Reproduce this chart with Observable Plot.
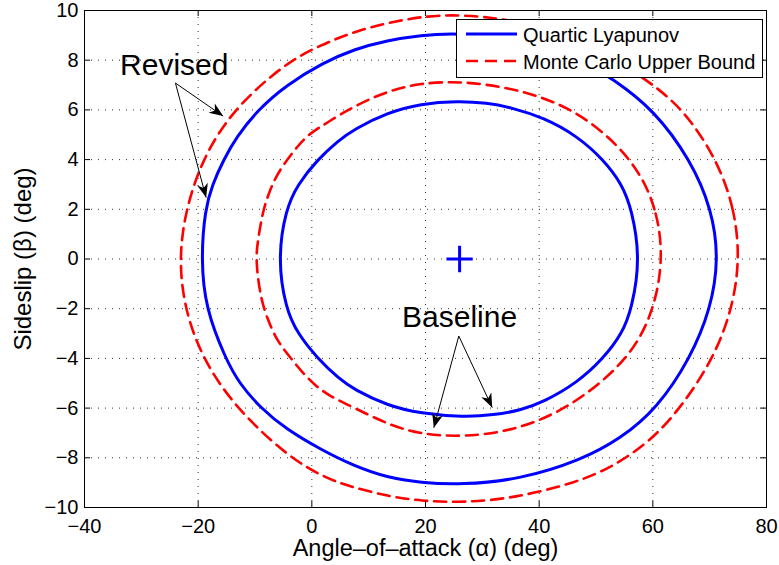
<!DOCTYPE html>
<html><head><meta charset="utf-8">
<script src="https://cdn.jsdelivr.net/npm/d3@7"></script>
<script src="https://cdn.jsdelivr.net/npm/@observablehq/plot@0.6"></script>
<style>html,body{margin:0;padding:0;background:#fff}svg{display:block}</style>
</head><body><div id="chart"></div>
<script>
// ---- tick values ----
const xTicks = [-40, -20, 0, 20, 40, 60, 80];
const yTicks = [-10, -8, -6, -4, -2, 0, 2, 4, 6, 8, 10];
const xGrid = [-20, 0, 20, 40, 60];
const yGrid = [-8, -6, -4, -2, 0, 2, 4, 6, 8];

// ---- series names (legend) ----
const seriesNames = ["Quartic Lyapunov", "Monte Carlo Upper Bound"];

// ---- curves: [alpha (deg), beta (deg)] ----
const revisedQuartic = [
  [71.6, 0], [70.4, 2], [66.6, 4], [60.2, 6], [53.1, 7.23], [47.2, 8.05], [36.7, 8.85],
  [25.5, 9.11], [19.1, 9.0], [13.3, 8.8], [7.4, 8.44], [2.0, 7.9], [-4.5, 7.0], [-9.5, 6],
  [-13.3, 4.9], [-15.5, 4], [-17.5, 3.0], [-18.8, 2], [-19.5, 0], [-18.7, -2], [-15.2, -4],
  [-12.8, -5], [-9.0, -6], [-4.5, -6.85], [1.5, -7.66], [7.4, -8.33], [13.3, -8.8],
  [19.1, -9.0], [26.2, -9.09], [36.7, -8.87], [47.3, -8.1], [54.3, -7.24], [60.8, -6],
  [66.6, -4], [70.2, -2]
];
const revisedMonteCarlo = [
  [75.3, 0], [74.4, 2], [71.3, 4], [65.5, 6], [59.0, 7.23], [46.7, 9.0], [35.5, 9.63],
  [25.6, 9.85], [19.1, 9.75], [13.3, 9.5], [7.4, 9.15], [1.5, 8.6], [-4.6, 7.9],
  [-14.0, 6], [-19.3, 4], [-22.2, 2], [-23.4, 0], [-22.4, -2], [-19.3, -4], [-13.4, -6],
  [-4.0, -8], [2.7, -8.85], [7.4, -9.2], [13.3, -9.54], [19.1, -9.74], [26.7, -9.8],
  [35.5, -9.63], [46.7, -8.99], [53.0, -8.35], [59.5, -7.35], [64.9, -6], [70.7, -4], [74.0, -2]
];
const baselineQuartic = [
  [57.8, 0], [56.3, 2], [54.6, 3.0], [51.3, 4.0], [46.7, 4.95], [40.8, 5.69], [35.0, 6.1],
  [30.8, 6.28], [25.8, 6.36], [19.1, 6.25], [13.3, 5.89], [7.4, 5.22], [4.6, 4.75],
  [1.0, 4], [-2.5, 3.0], [-4.6, 2], [-6.0, 0], [-4.6, -2], [-2.5, -3.0], [1.0, -4],
  [4.8, -4.82], [7.4, -5.25], [13.3, -5.9], [19.1, -6.22], [26.7, -6.36], [32.0, -6.28],
  [36.7, -6.09], [40.8, -5.75], [46.7, -4.98], [51.3, -4], [54.6, -3.0], [56.3, -2]
];
const baselineMonteCarlo = [
  [61.8, 0], [60.8, 2], [56.7, 4], [47.0, 6.0], [36.0, 6.87], [26.2, 7.16], [19.1, 7.08],
  [13.3, 6.76], [7.4, 6.15], [2.7, 5.49], [-0.5, 5.03], [-2.3, 4.6], [-5.2, 3.74],
  [-6.7, 3.14], [-7.85, 2.47], [-8.73, 1.8], [-9.5, 0.72], [-9.9, 0], [-9.03, -1.61],
  [-7.57, -2.55], [-6.1, -3.29], [-4.05, -3.89], [-1.7, -4.56], [0.65, -5.1], [3.0, -5.5],
  [7.4, -5.98], [13.3, -6.65], [19.1, -7.06], [26.7, -7.16], [35.5, -6.92], [45.5, -6.0],
  [56.1, -4], [60.3, -2]
];

// ---- trim point marker ----
const trimPoint = [[26, 0]];

// ---- annotations ----
const annotLabels = ["Revised", "Baseline"];
const annotAlpha = [-24.2, 26.0];
const annotBeta = [7.78, -2.33];
// arrows: start -> tip
const arrowStartAlpha = [-24.0, -24.0, 25.86, 25.86];
const arrowStartBeta = [7.08, 7.08, -3.10, -3.10];
const arrowTipAlpha = [-15.6, -18.6, 21.46, 31.74];
const arrowTipBeta = [5.75, 2.47, -6.79, -5.98];

// ---- build tables ----
function toRows(pts, curve) { return pts.map(([a, b]) => ({curve, alpha: a, beta: b})); }
const quarticRows = [...toRows(revisedQuartic, "revised"), ...toRows(baselineQuartic, "baseline")];
const mcRows = [...toRows(revisedMonteCarlo, "revised"), ...toRows(baselineMonteCarlo, "baseline")];
const annots = annotLabels.map((t, i) => ({t, a: annotAlpha[i], b: annotBeta[i]}));
const arrows = arrowStartAlpha.map((_, i) => ({
  a1: arrowStartAlpha[i], b1: arrowStartBeta[i], a2: arrowTipAlpha[i], b2: arrowTipBeta[i]
}));

const W = 779, H = 565, mL = 84, mR = 13, mT = 10, mB = 58;
const iw = W - mL - mR, ih = H - mT - mB, tk = 6;
const BLUE = "#0000ff", RED = "#ff0000";
const FONT = "'Liberation Sans', Arial, Helvetica, sans-serif";

const chart = Plot.plot({
  width: W, height: H,
  marginLeft: mL, marginRight: mR, marginTop: mT, marginBottom: mB,
  style: {fontFamily: FONT, fontSize: "20px", color: "black", background: "white"},
  x: {domain: [-40, 80], ticks: xTicks, tickSize: 0, tickPadding: 11, label: null},
  y: {domain: [-10, 10], ticks: yTicks, tickSize: 0, tickPadding: 6, label: null},
  marks: [
    Plot.ruleX(xGrid, {stroke: "#333", strokeWidth: 1, strokeDasharray: "1,6"}),
    Plot.ruleY(yGrid, {stroke: "#333", strokeWidth: 1, strokeDasharray: "1,6"}),
    Plot.line(quarticRows, {x: "alpha", y: "beta", z: "curve", stroke: BLUE, strokeWidth: 3, curve: "basis-closed"}),
    Plot.line(mcRows, {x: "alpha", y: "beta", z: "curve", stroke: RED, strokeWidth: 2.6, strokeDasharray: "12,7", curve: "basis-closed"}),
    Plot.dot(trimPoint, {x: d => d[0], y: d => d[1], symbol: "plus", r: 8.5, stroke: BLUE, strokeWidth: 3}),
    Plot.link(arrows, {x1: "a1", y1: "b1", x2: "a2", y2: "b2", stroke: "black", strokeWidth: 1}),
    Plot.text(annots, {x: "a", y: "b", text: "t", fontSize: 30, fill: "black"}),
    // inward ticks on all four sides
    Plot.ruleX(xTicks, {stroke: "black", insetTop: ih - tk}),
    Plot.ruleX(xTicks, {stroke: "black", insetBottom: ih - tk}),
    Plot.ruleY(yTicks, {stroke: "black", insetRight: iw - tk}),
    Plot.ruleY(yTicks, {stroke: "black", insetLeft: iw - tk}),
    Plot.frame({stroke: "black", strokeWidth: 1}),
    Plot.text(["Angle–of–attack (α) (deg)"], {frameAnchor: "bottom", dy: 41, lineAnchor: "middle", text: d => d, fontSize: 23.5, fill: "black"}),
    Plot.text(["Sideslip (β) (deg)"], {frameAnchor: "left", dx: -61, rotate: -90, textAnchor: "middle", lineAnchor: "middle", text: d => d, fontSize: 24, fill: "black"})
  ]
});

const svg = d3.select(chart);
// filled arrowheads
const defs = svg.append("defs");
defs.append("marker").attr("id", "ahead")
  .attr("viewBox", "-16 -8 18 16").attr("markerWidth", 18).attr("markerHeight", 16)
  .attr("markerUnits", "userSpaceOnUse").attr("orient", "auto").attr("refX", 0).attr("refY", 0)
  .append("path").attr("d", "M0,0L-14,-5.5L-10,0L-14,5.5Z").attr("fill", "black");
svg.selectAll('g[aria-label="link"] path').attr("marker-end", "url(#ahead)");

// legend box (inside the plot, top right)
const lg = svg.append("g").attr("font-family", FONT).attr("font-size", 20).attr("text-anchor", "start");
lg.append("rect").attr("x", 456.5).attr("y", 19.5).attr("width", 306).attr("height", 58)
  .attr("fill", "white").attr("stroke", "black").attr("stroke-width", 1);
const legendStyles = [
  {stroke: BLUE, width: 3, dash: null},
  {stroke: RED, width: 2.6, dash: "12,7"}
];
seriesNames.forEach((name, i) => {
  const cy = 34 + i * 27;
  lg.append("line").attr("x1", 466).attr("x2", 517).attr("y1", cy).attr("y2", cy)
    .attr("stroke", legendStyles[i].stroke).attr("stroke-width", legendStyles[i].width)
    .attr("stroke-dasharray", legendStyles[i].dash);
  lg.append("text").attr("x", 523).attr("y", cy + 8).attr("fill", "black")
    .attr("text-anchor", "start").text(name);
});

document.getElementById("chart").appendChild(chart);
</script>
</body></html>
